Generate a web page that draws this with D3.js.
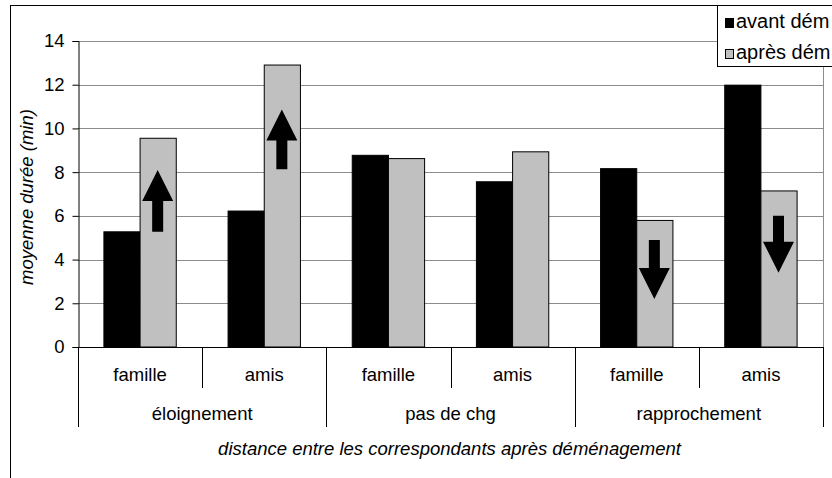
<!DOCTYPE html>
<html>
<head>
<meta charset="utf-8">
<script src="https://cdn.jsdelivr.net/npm/d3@7"></script>
<style>
  html, body { margin: 0; padding: 0; background: #fff; }
  svg { display: block; }
  text { font-family: "Liberation Sans", Arial, sans-serif; }
</style>
</head>
<body>
<svg id="chart" width="832" height="478"></svg>
<script>
// ---- data ----
const subCategories = ["famille", "amis", "famille", "amis", "famille", "amis"];
const groups = ["éloignement", "pas de chg", "rapprochement"];
const seriesNames = ["avant dém", "après dém"];
const avantValues = [5.27, 6.22, 8.77, 7.56, 8.16, 11.98];
const apresValues = [9.55, 12.9, 8.62, 8.93, 5.79, 7.14];
const yTicks = [0, 2, 4, 6, 8, 10, 12, 14];
// arrows drawn inside the "après" bars: category index, start value, end value
const arrowCats = [0, 1, 4, 5];
const arrowFrom = [5.27, 8.13, 4.9, 6.0];
const arrowTo = [8.1, 10.87, 2.2, 3.4];
const yTitle = "moyenne durée (min)";
const xTitle = "distance entre les correspondants après déménagement";

// ---- layout ----
const svg = d3.select("#chart");
const pLeft = 78, pRight = 823, pTop = 41, pBottom = 347;
const fontSize = 18.5;
const legendFont = 20;

const x0 = d3.scaleBand().domain(d3.range(subCategories.length)).range([pLeft, pRight]).padding(0);
const x1 = d3.scaleBand().domain(seriesNames).range([0, x0.bandwidth()]).paddingInner(0).paddingOuter(0.716);
const y = d3.scaleLinear().domain([0, 14]).range([pBottom, pTop]);
const color = d3.scaleOrdinal().domain(seriesNames).range(["#000000", "#c0c0c0"]);

// outer frame
svg.append("rect").attr("x", 10.5).attr("y", 5.5).attr("width", 900).attr("height", 600)
  .attr("fill", "#fff").attr("stroke", "#000").attr("stroke-width", 1);

// gridlines
svg.append("g").selectAll("line").data(yTicks.filter(d => d > 0)).join("line")
  .attr("x1", pLeft).attr("x2", pRight)
  .attr("y1", d => Math.round(y(d)) + 0.5).attr("y2", d => Math.round(y(d)) + 0.5)
  .attr("stroke", "#8c8c8c").attr("stroke-width", 1);

// plot area right border
svg.append("line").attr("x1", pRight + 0.5).attr("x2", pRight + 0.5).attr("y1", 15).attr("y2", pBottom)
  .attr("stroke", "#8c8c8c");

// bars
const rows = subCategories.map((c, i) => ({ i, values: [avantValues[i], apresValues[i]] }));
const gBars = svg.append("g");
rows.forEach(r => {
  seriesNames.forEach((s, k) => {
    const v = r.values[k];
    gBars.append("rect")
      .attr("x", x0(r.i) + x1(s))
      .attr("y", y(v))
      .attr("width", x1.bandwidth())
      .attr("height", y(0) - y(v))
      .attr("fill", color(s))
      .attr("stroke", "#000").attr("stroke-width", 1);
  });
});

// arrows
const headH = 31, headW = 31, shaftW = 11;
arrowCats.forEach((c, j) => {
  const cx = x0(c) + x1(seriesNames[1]) + x1.bandwidth() / 2 - 0.5;
  const yFrom = y(arrowFrom[j]), yTo = y(arrowTo[j]);
  const dir = yTo < yFrom ? -1 : 1; // -1 up
  const yBase = yTo - dir * headH;
  const pts = [
    [cx - shaftW / 2, yFrom], [cx - shaftW / 2, yBase], [cx - headW / 2, yBase],
    [cx, yTo], [cx + headW / 2, yBase], [cx + shaftW / 2, yBase], [cx + shaftW / 2, yFrom]
  ];
  svg.append("path").attr("d", d3.line()(pts) + "Z").attr("fill", "#000");
});

// y axis
const yAxis = d3.axisLeft(y).tickValues(yTicks).tickSize(6).tickPadding(8).tickFormat(d3.format("d"));
const gy = svg.append("g").attr("transform", `translate(${pLeft + 0.5},0)`).call(yAxis);
gy.select(".domain").attr("stroke", "#000");
gy.selectAll(".tick line").attr("stroke", "#000");
gy.selectAll(".tick text").attr("font-size", fontSize).attr("fill", "#000")
  .attr("font-family", "Liberation Sans, Arial, sans-serif");

// x axis baseline
svg.append("line").attr("x1", pLeft).attr("x2", pRight + 1)
  .attr("y1", pBottom + 0.5).attr("y2", pBottom + 0.5).attr("stroke", "#000");

// sub-category separators
const subTickEnd = 388, groupTickEnd = 427;
d3.range(subCategories.length + 1).forEach(i => {
  const xx = Math.round(i < subCategories.length ? x0(i) : pRight) + 0.5;
  const isGroup = i % 2 === 0;
  svg.append("line").attr("x1", xx).attr("x2", xx)
    .attr("y1", pBottom).attr("y2", isGroup ? groupTickEnd : subTickEnd)
    .attr("stroke", "#000");
});

// sub-category labels
svg.append("g").selectAll("text").data(subCategories).join("text")
  .attr("x", (d, i) => x0(i) + x0.bandwidth() / 2)
  .attr("y", 381)
  .attr("text-anchor", "middle").attr("font-size", fontSize).attr("fill", "#000")
  .text(d => d);

// group labels
svg.append("g").selectAll("text").data(groups).join("text")
  .attr("x", (d, i) => x0(i * 2) + x0.bandwidth())
  .attr("y", 420)
  .attr("text-anchor", "middle").attr("font-size", fontSize).attr("fill", "#000")
  .text(d => d);

// axis titles
svg.append("text").attr("x", (pLeft + pRight) / 2 - 1).attr("y", 455)
  .attr("text-anchor", "middle").attr("font-size", fontSize).attr("font-style", "italic")
  .text(xTitle);
svg.append("text").attr("transform", `translate(33,${(pTop + pBottom) / 2 + 3}) rotate(-90)`)
  .attr("text-anchor", "middle").attr("font-size", fontSize).attr("font-style", "italic")
  .text(yTitle);

// legend
const lg = svg.append("g");
lg.append("rect").attr("x", 717.5).attr("y", 5.5).attr("width", 200).attr("height", 61)
  .attr("fill", "#fff").attr("stroke", "#000");
seriesNames.forEach((s, k) => {
  const cy = 23 + k * 31;
  lg.append("rect").attr("x", 725.5).attr("y", cy - 4.5).attr("width", 8).attr("height", 9)
    .attr("fill", color(s)).attr("stroke", "#000");
  lg.append("text").attr("x", 736).attr("y", cy + 4.5).attr("font-size", legendFont).text(s);
});
</script>
</body>
</html>
